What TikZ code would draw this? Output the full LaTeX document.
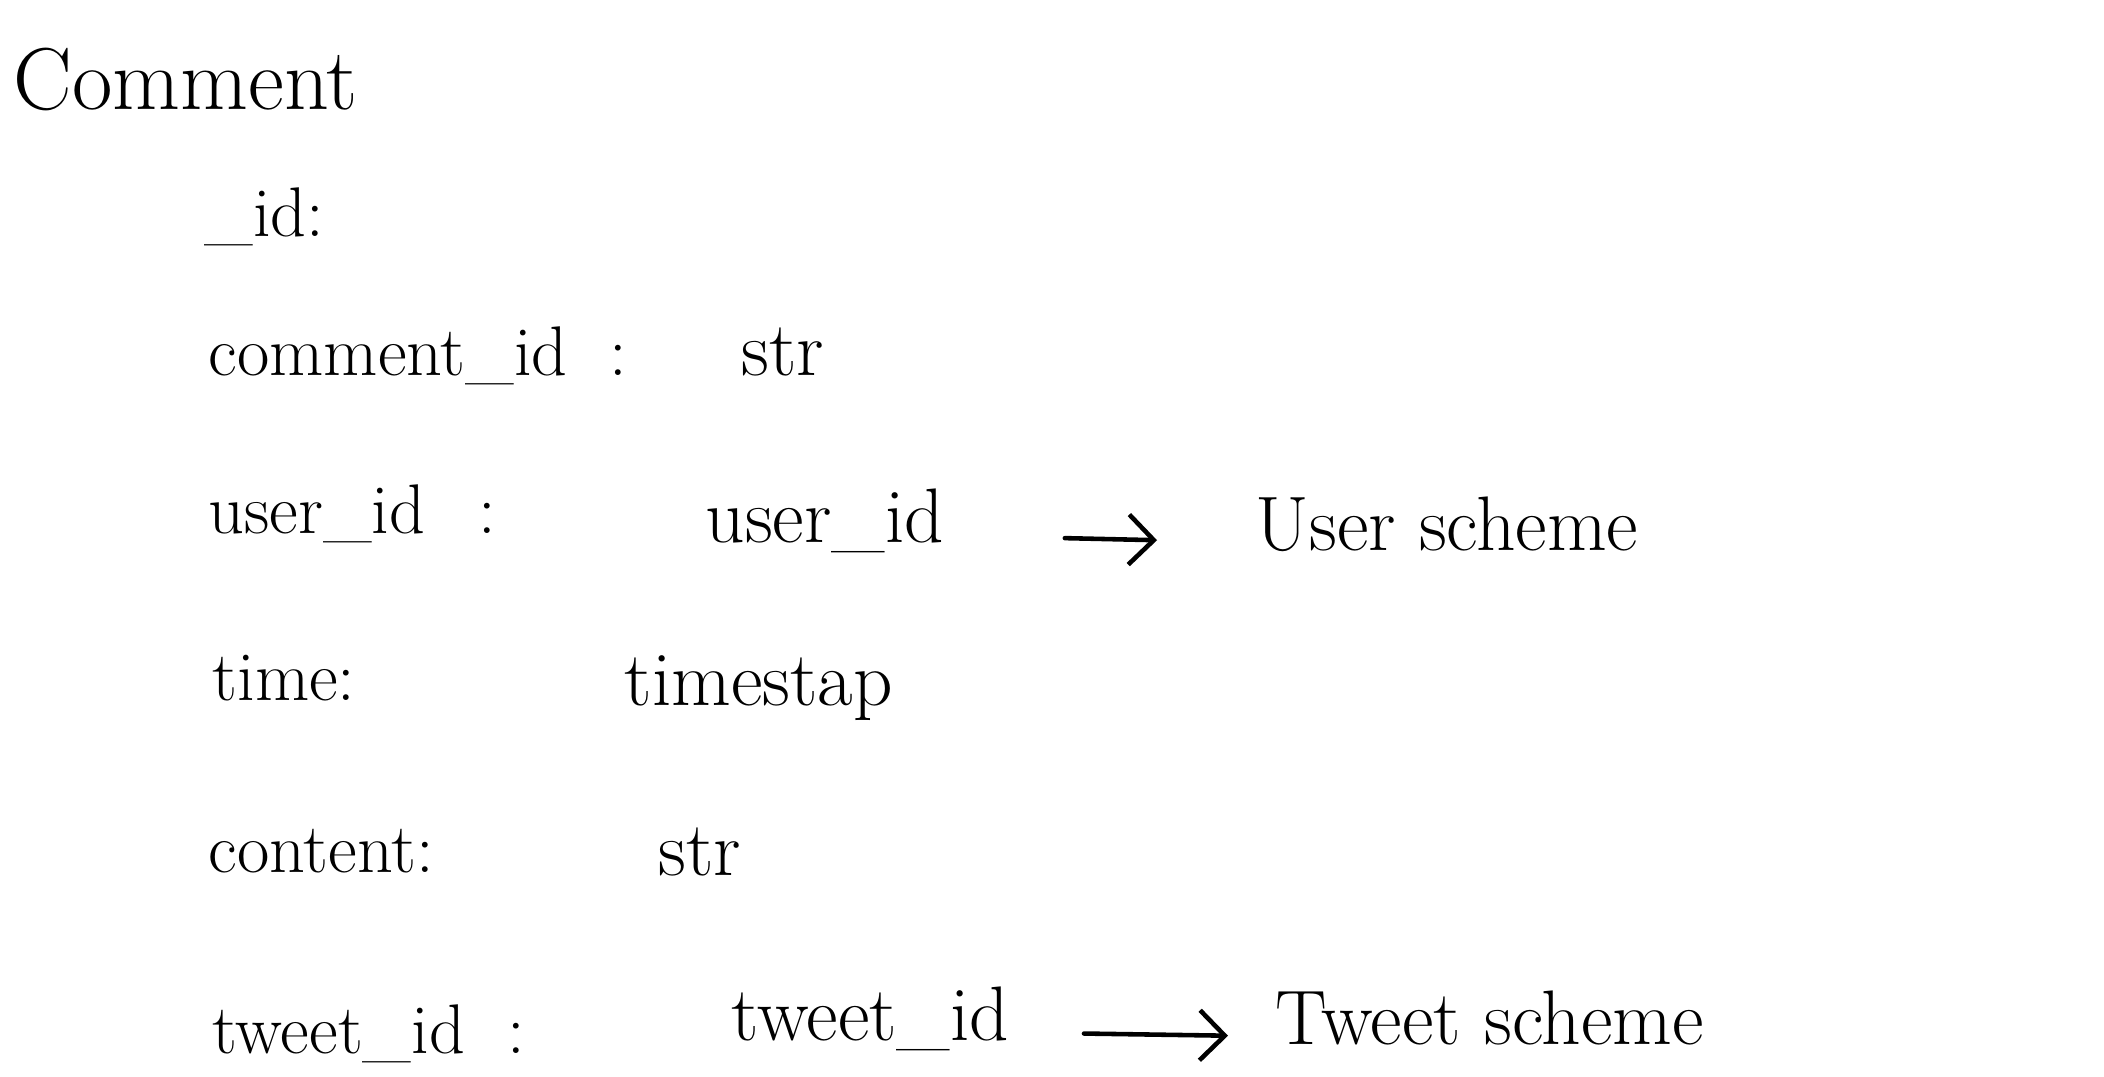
\documentclass[tikz,border=0pt]{standalone}
\usepackage{tikz}
\usetikzlibrary{arrows.meta}

\begin{document}
\begin{tikzpicture}[
    every node/.style={inner sep=0pt, anchor=base west},
    title/.style={font=\fontsize{25}{30}\selectfont},
    field/.style={font=\fontsize{20}{24}\selectfont},
    typ/.style={font=\fontsize{22}{26}\selectfont},
    refarrow/.style={
        -{Straight Barb[length=2.5mm, width=5mm]},
        line width=1.3pt,
        line cap=round
    }
]
\useasboundingbox (0,0) rectangle (21.04,10.76);

% Title
\node[title] (comment) at (0.13,9.66) {Comment};

% Fields
\node[field] (idkey) at (2.04,8.39) {\_id:};

\node[field] (cidkey) at (2.08,7.00) {comment\_id\hspace{0.6em}:};
\node[typ] (cidtyp) at (7.41,7.00) {str};

\node[field] (uidkey) at (2.08,5.43) {user\_id\hspace{0.75em}:};
\node[typ] (uidtyp) at (7.05,5.33) {user\_id};

\node[field] (timekey) at (2.12,3.76) {time:};
\node[typ] (timetyp) at (6.24,3.71) {timestap};

\node[field] (contkey) at (2.08,2.04) {content:};
\node[typ] (conttyp) at (6.58,2.01) {str};

\node[field] (tidkey) at (2.12,0.23) {tweet\_id\hspace{0.6em}:};
\node[typ] (tidtyp) at (7.31,0.36) {tweet\_id};

% References
\node[typ] (userref) at (12.55,5.26) {User scheme};
\node[typ] (tweetref) at (12.75,0.32) {Tweet scheme};

\draw[refarrow, shorten <=1.2cm, shorten >=0.98cm] (uidtyp.mid east) -- (userref.mid west);
\draw[refarrow, shorten <=0.74cm, shorten >=0.47cm] (tidtyp.mid east) -- (tweetref.mid west);

\end{tikzpicture}
\end{document}
